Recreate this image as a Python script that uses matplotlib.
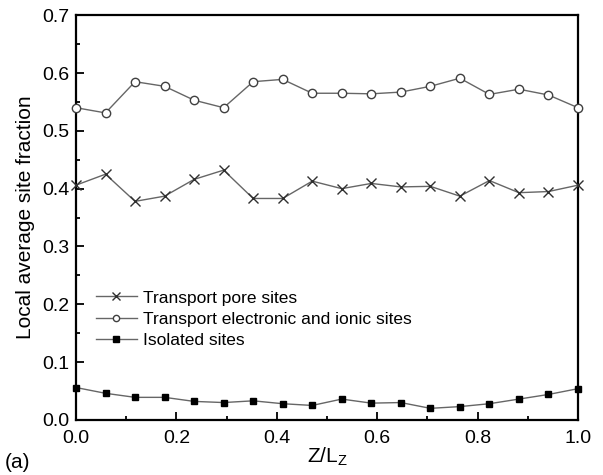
import matplotlib.pyplot as plt
import numpy as np
from matplotlib.ticker import MultipleLocator

plt.rcParams['font.family'] = ['Liberation Sans', 'DejaVu Sans']

# Normalised position along the cell, 18 slices
z = np.arange(18) / 17

pore_sites = [0.406, 0.425, 0.378, 0.387, 0.416, 0.432, 0.383, 0.383, 0.413,
              0.400, 0.409, 0.403, 0.404, 0.387, 0.414, 0.393, 0.395, 0.406]
electronic_ionic_sites = [0.540, 0.531, 0.585, 0.577, 0.553, 0.540, 0.585, 0.589, 0.565,
                          0.565, 0.564, 0.567, 0.577, 0.591, 0.563, 0.572, 0.562, 0.540]
isolated_sites = [0.056, 0.046, 0.039, 0.039, 0.032, 0.030, 0.033, 0.028, 0.025,
                  0.036, 0.029, 0.030, 0.020, 0.023, 0.028, 0.036, 0.044, 0.054]

fig = plt.figure(figsize=(6.03, 4.75), dpi=100)
ax = fig.add_axes([0.126, 0.116, 0.8325, 0.852])

line_col = '#666666'
ax.plot(z, pore_sites, color=line_col, lw=1.0, marker='x', ms=7, mew=1.0,
        mec='#303030', label='Transport pore sites', clip_on=False, zorder=3)
ax.plot(z, electronic_ionic_sites, color=line_col, lw=1.0, marker='o', ms=6,
        mfc='white', mec='#404040', mew=1.0,
        label='Transport electronic and ionic sites', clip_on=False, zorder=3)
ax.plot(z, isolated_sites, color=line_col, lw=1.0, marker='s', ms=5,
        mfc='black', mec='black', label='Isolated sites', clip_on=False, zorder=3)

ax.set_xlim(0, 1)
ax.set_ylim(0, 0.7)
ax.xaxis.set_major_locator(MultipleLocator(0.2))
ax.xaxis.set_minor_locator(MultipleLocator(0.1))
ax.yaxis.set_major_locator(MultipleLocator(0.1))
ax.yaxis.set_minor_locator(MultipleLocator(0.05))
ax.xaxis.set_major_formatter(plt.FormatStrFormatter('%.1f'))
ax.yaxis.set_major_formatter(plt.FormatStrFormatter('%.1f'))
ax.tick_params(which='major', direction='in', length=6, width=1.3, labelsize=14,
               top=False, right=False)
ax.tick_params(which='minor', direction='in', length=3, width=1.3,
               top=False, right=False)
ax.tick_params(axis='x', pad=7)
ax.tick_params(axis='y', pad=5)
for sp in ax.spines.values():
    sp.set_linewidth(1.6)

ax.set_xlabel('Z/L$_\\mathregular{Z}$', fontsize=15, labelpad=-1)
ax.set_ylabel('Local average site fraction', fontsize=15, labelpad=5)

ax.legend(loc='upper left', bbox_to_anchor=(0.015, 0.35), frameon=False,
          fontsize=12.5, handlelength=2.4, handletextpad=0.3, labelspacing=0.36,
          borderpad=0.2, markerscale=0.75)

fig.text(0.008, 0.015, '(a)', fontsize=15)

fig.savefig('out.png', dpi=100)
